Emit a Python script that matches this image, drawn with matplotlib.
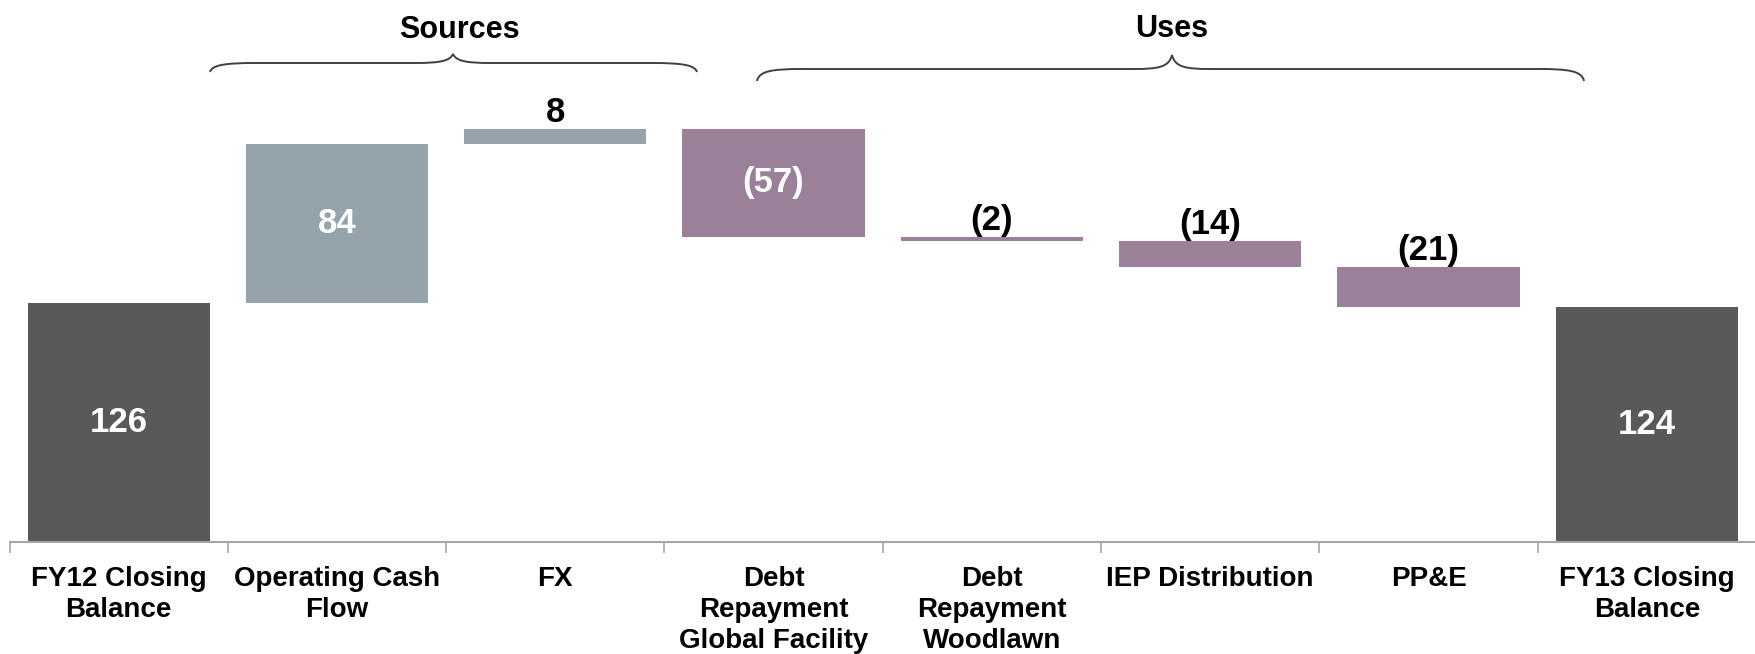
import matplotlib
matplotlib.use('Agg')
import matplotlib.pyplot as plt
import matplotlib.transforms as mtransforms
from matplotlib.path import Path
from matplotlib.patches import PathPatch
import numpy as np

plt.rcParams['font.family'] = ['Liberation Sans', 'DejaVu Sans']
plt.rcParams['font.weight'] = 'bold'

# data
categories = ['FY12 Closing\nBalance', 'Operating Cash\nFlow', 'FX',
              'Debt\nRepayment\nGlobal Facility', 'Debt\nRepayment\nWoodlawn',
              'IEP Distribution', 'PP&E', 'FY13 Closing\nBalance']
values = [126, 84, 8, -57, -2, -14, -21, 124]
kinds = ['total', 'up', 'up', 'down', 'down', 'down', 'down', 'total']
groups = ['Sources', 'Uses']

colors = {'total': '#59595B', 'up': '#94A4AA', 'down': '#9A8099'}

W, H = 1756, 654
fig = plt.figure(figsize=(W / 100, H / 100), dpi=100)
# axes: bottom spine at y=542 px, top at figure top
ax = fig.add_axes([9.5 / W, (H - 542) / H, (W - 9.5) / W, 542 / H])

x = np.arange(len(categories))
bottoms = []
heights = []
run = 0
for v, k in zip(values, kinds):
    if k == 'total':
        bottoms.append(0)
        heights.append(v)
        run = v
    elif v >= 0:
        bottoms.append(run)
        heights.append(v)
        run += v
    else:
        run += v
        bottoms.append(run)
        heights.append(-v)

ax.bar(x, heights, bottom=bottoms, width=0.835,
       color=[colors[k] for k in kinds], zorder=2)

for i, (v, b, h) in enumerate(zip(values, bottoms, heights)):
    txt = str(v) if v >= 0 else '(%d)' % -v
    if h >= 30:
        ax.text(i, b + h / 2, txt, ha='center', va='center', color='white',
                fontsize=25, fontweight='bold')
    else:
        ax.annotate(txt, (i, b + h), xytext=(0, 12), textcoords='offset points',
                    ha='center', va='center', color='black',
                    fontsize=25, fontweight='bold')

ax.set_xlim(-0.5, -0.5 + (W - 9.5) / 220.0)
ax.set_ylim(0, 542 / 1.895)

for s in ['top', 'right', 'left']:
    ax.spines[s].set_visible(False)
ax.spines['bottom'].set_color('#A6A6A6')
ax.spines['bottom'].set_linewidth(1.5)
ax.set_yticks([])
ax.set_xticks(x)
ax.set_xticklabels(categories, fontsize=20, fontweight='bold', linespacing=1.27)
ax.tick_params(axis='x', which='major', length=0, pad=17)
ax.set_xticks(np.arange(-0.5, len(categories), 1.0), minor=True)
ax.tick_params(axis='x', which='minor', length=8, width=1.2, color='#A6A6A6')

# pixel transform (origin top-left)
pix = mtransforms.Affine2D().scale(1 / W, -1 / H).translate(0, 1) + fig.transFigure


def brace(x0, x1, xm, y_tip, y_flat, y_peak):
    verts = [(x0, y_tip),
             (x0 + 2, y_flat + 2), (x0 + 15, y_flat), (x0 + 45, y_flat),
             (xm - 38, y_flat),
             (xm - 13, y_flat), (xm - 3, y_flat - 2), (xm, y_peak),
             (xm + 3, y_flat - 2), (xm + 13, y_flat), (xm + 38, y_flat),
             (x1 - 45, y_flat),
             (x1 - 15, y_flat), (x1 - 2, y_flat + 2), (x1, y_tip)]
    codes = [Path.MOVETO,
             Path.CURVE4, Path.CURVE4, Path.CURVE4,
             Path.LINETO,
             Path.CURVE4, Path.CURVE4, Path.CURVE4,
             Path.CURVE4, Path.CURVE4, Path.CURVE4,
             Path.LINETO,
             Path.CURVE4, Path.CURVE4, Path.CURVE4]
    p = PathPatch(Path(verts, codes), transform=pix, fill=False,
                  edgecolor='#404040', linewidth=1.4)
    fig.add_artist(p)


brace(210, 697, 453, 72, 63, 54)
brace(757, 1584, 1172, 81, 69, 55)

fig.text(459, 30, groups[0], transform=pix, ha='center', va='center',
         fontsize=22, fontweight='bold')
fig.text(1172, 29, groups[1], transform=pix, ha='center', va='center',
         fontsize=22, fontweight='bold')

fig.savefig('out.png', dpi=100)
